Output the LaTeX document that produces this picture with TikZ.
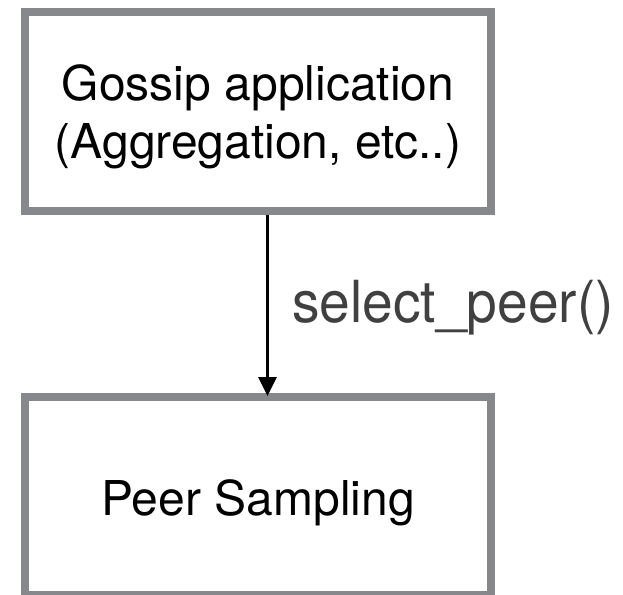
\documentclass[tikz,border=0pt]{standalone}
\usepackage{fontspec}
\setmainfont{TeX Gyre Heros}
\usetikzlibrary{arrows.meta,calc}
\definecolor{boxgray}{HTML}{86888B}
\definecolor{labelgray}{HTML}{404040}
\tikzset{
  layerbox/.style={draw=boxgray, line width=8pt, fill=white,
    minimum width=466pt, inner sep=0pt},
  layertext/.style={align=center, inner sep=0pt, text=black,
    font=\fontsize{48}{58}\selectfont},
  calls/.style={line width=3pt, -{Triangle[width=18pt,length=19pt]}},
  calllabel/.style={inner sep=0pt, text=labelgray, anchor=base west,
    font=\fontsize{58}{60}\selectfont}
}
\begin{document}
\begin{tikzpicture}[x=1pt, y=-1pt]
  \useasboundingbox (0,0) rectangle (623,594);
  % upper layer
  \node[layerbox, minimum height=198.5pt] (app) at (258,111.25) {};
  \node[layertext] (apptext) at ($(app.center)+(0,5.5)$)
    {Gossip application\\(Aggregation, etc..)};
  % lower layer
  \node[layerbox, minimum height=198pt] (ps) at (258,496) {};
  \node[layertext] (pstext) at ($(ps.center)+(0,7)$) {Peer Sampling};
  % call between the layers
  \draw[calls, shorten >=-3pt] ([xshift=9.5pt]app.south) -- ([xshift=9.5pt]ps.north);
  \node[calllabel] (call) at (292,322) {\scalebox{0.95}[1]{select\_peer()}};
\end{tikzpicture}
\end{document}
